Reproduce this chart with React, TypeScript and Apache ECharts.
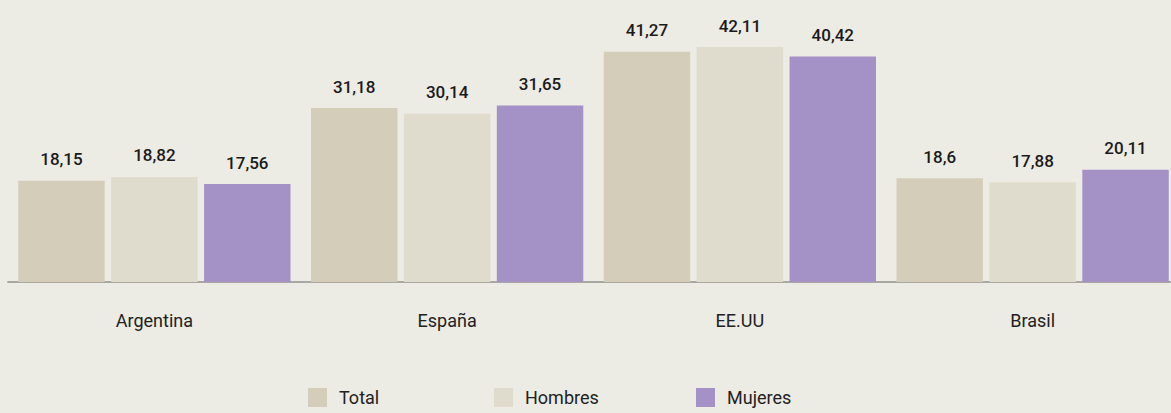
import React, { useEffect, useRef } from "react";
import * as echarts from "echarts";

const categories = ["Argentina", "España", "EE.UU", "Brasil"];
const totalValues = [18.15, 31.18, 41.27, 18.6];
const hombresValues = [18.82, 30.14, 42.11, 17.88];
const mujeresValues = [17.56, 31.65, 40.42, 20.11];
const seriesNames = ["Total", "Hombres", "Mujeres"];
const colors = ["#D3CDBA", "#DFDCCE", "#A492C6"];

const FONT = "Roboto, sans-serif";

export default function App() {
  const ref = useRef<HTMLDivElement>(null);
  useEffect(() => {
    if (!ref.current) return;
    const chart = echarts.init(ref.current, undefined, { renderer: "svg" });
    const dataSets = [totalValues, hombresValues, mujeresValues];
    const legendLefts = [303, 489, 691];
    chart.setOption({
      animation: false,
      backgroundColor: "#ECEBE4",
      textStyle: { fontFamily: FONT },
      grid: { left: 8, width: 1171, top: 3, height: 279, outerBoundsMode: "none", containLabel: false },
      legend: seriesNames.map((n, i) => ({
        data: [n],
        left: legendLefts[i],
        top: 383,
        itemWidth: 19,
        itemHeight: 19,
        itemGap: 12,
        icon: "rect",
        textStyle: { fontSize: 18, color: "#222", fontFamily: FONT, padding: [3, 0, 0, 7] },
        selectedMode: false,
      })),
      xAxis: {
        type: "category",
        data: categories,
        axisLine: { show: true, lineStyle: { color: "#A8A8A2", width: 2 } },
        axisTick: { show: false },
        axisLabel: { color: "#222", fontSize: 18, margin: 29, fontFamily: FONT },
      },
      yAxis: {
        type: "value",
        min: 0,
        max: 50,
        show: false,
        splitLine: { show: false },
      },
      series: seriesNames.map((n, i) => ({
        name: n,
        type: "bar",
        data: dataSets[i],
        barGap: "7.5%",
        barCategoryGap: "7%",
        itemStyle: { color: colors[i] },
        label: {
          show: true,
          position: "top",
          distance: 13,
          color: "#1a1a1a",
          fontSize: 17,
          fontWeight: 500,
          fontFamily: FONT,
          formatter: (p: any) => String(p.value).replace(".", ","),
        },
      })),
    });
    return () => chart.dispose();
  }, []);
  return <div ref={ref} style={{ width: 1171, height: 413, position: "absolute", left: 0, top: 0 }} />;
}
